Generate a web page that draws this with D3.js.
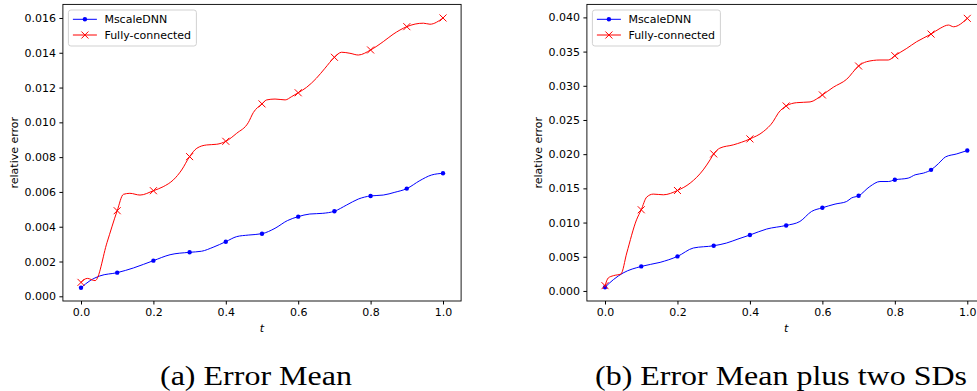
<!DOCTYPE html>
<html lang="en">
  <head>
    <meta charset="UTF-8" />
    <title>Relative error</title>
    <style>
      body { margin: 0; background: #fff; }
      svg text { font-family: "DejaVu Sans", sans-serif; }
    </style>
  </head>
  <body>
    <div id="chart"></div>

    <script src="https://d3js.org/d3.v7.min.js"></script>

    <script>
      // series names
      const seriesNames = ["MscaleDNN", "Fully-connected"];

      // (a) error mean
      const tMeanBlue = [0, 0.025, 0.052, 0.1, 0.145, 0.2, 0.246, 0.3, 0.333, 0.365, 0.4, 0.43, 0.462, 0.5, 0.536, 0.57, 0.6, 0.632, 0.668, 0.7, 0.734, 0.766, 0.8, 0.835, 0.867, 0.9, 0.936, 0.968, 1.0];
      const meanBlue = [0.00049, 0.0009, 0.00117, 0.00136, 0.00163, 0.00205, 0.00239, 0.00253, 0.00259, 0.00282, 0.00314, 0.00343, 0.00352, 0.0036, 0.00391, 0.00435, 0.00458, 0.00473, 0.00477, 0.00489, 0.00525, 0.00559, 0.00577, 0.00582, 0.00598, 0.00619, 0.00665, 0.00697, 0.00707];
      const tMeanRed = [0, 0.0175, 0.039, 0.072, 0.1, 0.117, 0.135, 0.163, 0.2, 0.227, 0.255, 0.278, 0.3, 0.32, 0.347, 0.375, 0.4, 0.43, 0.462, 0.476, 0.5, 0.513, 0.536, 0.564, 0.582, 0.6, 0.623, 0.65, 0.674, 0.7, 0.72, 0.743, 0.766, 0.8, 0.835, 0.862, 0.9, 0.923, 0.946, 0.964, 1.0];
      const meanRed = [0.0008, 0.00103, 0.0009, 0.0031, 0.00492, 0.00586, 0.00592, 0.00582, 0.00607, 0.0063, 0.00669, 0.00726, 0.00803, 0.00851, 0.0087, 0.00874, 0.00891, 0.00937, 0.00998, 0.01056, 0.01106, 0.01129, 0.01134, 0.01129, 0.01148, 0.0117, 0.01201, 0.01253, 0.01311, 0.01374, 0.01403, 0.01397, 0.01387, 0.01416, 0.01464, 0.01506, 0.0155, 0.01565, 0.0157, 0.01564, 0.016];

      // (b) error mean plus two SDs
      const tSdBlue = [0, 0.023, 0.05, 0.1, 0.152, 0.2, 0.244, 0.3, 0.335, 0.367, 0.4, 0.446, 0.5, 0.538, 0.57, 0.6, 0.635, 0.667, 0.68, 0.7, 0.731, 0.759, 0.782, 0.8, 0.837, 0.856, 0.879, 0.9, 0.92, 0.94, 0.971, 1.0];
      const sdBlue = [0.00053, 0.00165, 0.00263, 0.00359, 0.00418, 0.00505, 0.00628, 0.00661, 0.007, 0.00759, 0.00818, 0.00905, 0.00958, 0.01016, 0.01162, 0.01216, 0.0127, 0.01308, 0.01358, 0.01391, 0.01527, 0.016, 0.016, 0.01625, 0.0165, 0.01698, 0.01723, 0.01771, 0.0186, 0.0196, 0.02004, 0.02053];
      const tSdRed = [0, 0.009, 0.023, 0.044, 0.06, 0.087, 0.1, 0.115, 0.133, 0.161, 0.2, 0.235, 0.271, 0.29, 0.3, 0.317, 0.354, 0.4, 0.437, 0.464, 0.478, 0.5, 0.529, 0.566, 0.6, 0.63, 0.667, 0.7, 0.722, 0.759, 0.782, 0.8, 0.833, 0.86, 0.9, 0.925, 0.948, 0.962, 1.0];
      const sdRed = [0.00077, 0.0019, 0.00223, 0.00248, 0.00555, 0.0104, 0.01187, 0.01372, 0.01416, 0.01406, 0.01469, 0.01577, 0.0177, 0.01917, 0.02004, 0.02088, 0.02136, 0.02223, 0.0233, 0.02476, 0.02599, 0.02705, 0.02753, 0.02764, 0.02866, 0.02978, 0.03095, 0.03289, 0.03352, 0.03377, 0.03377, 0.0344, 0.03547, 0.03644, 0.03756, 0.0384, 0.03888, 0.03863, 0.03986];

      // tick labels
      const xTicks = [0, 0.2, 0.4, 0.6, 0.8, 1.0];
      const yTicksMean = [0, 0.002, 0.004, 0.006, 0.008, 0.010, 0.012, 0.014, 0.016];
      const yTicksSd = [0, 0.005, 0.010, 0.015, 0.020, 0.025, 0.030, 0.035, 0.040];
      const captions = ["(a) Error Mean", "(b) Error Mean plus two SDs"];

      const width = 977;
      const height = 391;

      const svg = d3.select("#chart").append("svg")
          .attr("width", width)
          .attr("height", height)
          .attr("viewBox", [0, 0, width, height]);

      function Panel({
        left, right, top = 4.4, bottom = 301,
        yDomain, yTicks, blueT, blueY, redT, redY,
        caption, captionX, captionLen
      }) {
        const x = d3.scaleLinear([-0.05, 1.05], [left, right]);
        const y = d3.scaleLinear(yDomain, [bottom, top]);
        const g = svg.append("g");

        const line = (T, Y) => d3.line()
            .x(i => x(T[i]))
            .y(i => y(Y[i]))
            .curve(d3.curveMonotoneX)(d3.range(T.length));

        const isMark = t => Math.abs(t * 10 - Math.round(t * 10)) < 1e-6;

        // blue line + dots
        g.append("path")
            .attr("d", line(blueT, blueY))
            .attr("fill", "none")
            .attr("stroke", "#0000ff")
            .attr("stroke-width", 1);
        g.append("g")
          .selectAll("circle")
          .data(d3.range(blueT.length).filter(i => isMark(blueT[i])))
          .join("circle")
            .attr("cx", i => x(blueT[i]))
            .attr("cy", i => y(blueY[i]))
            .attr("r", 2.2)
            .attr("fill", "#0000ff");

        // red line + crosses
        g.append("path")
            .attr("d", line(redT, redY))
            .attr("fill", "none")
            .attr("stroke", "#ff0000")
            .attr("stroke-width", 1);
        g.append("g")
          .selectAll("path")
          .data(d3.range(redT.length).filter(i => isMark(redT[i])))
          .join("path")
            .attr("transform", i => `translate(${x(redT[i])},${y(redY[i])})`)
            .attr("d", "M-3.5,-3.5L3.5,3.5M-3.5,3.5L3.5,-3.5")
            .attr("stroke", "#ff0000")
            .attr("stroke-width", 1);

        // frame
        g.append("rect")
            .attr("x", left)
            .attr("y", top)
            .attr("width", right - left)
            .attr("height", bottom - top)
            .attr("fill", "none")
            .attr("stroke", "#000")
            .attr("stroke-width", 0.9);

        // axes
        g.append("g")
            .attr("transform", `translate(0,${bottom})`)
            .call(d3.axisBottom(x).tickValues(xTicks).tickFormat(d3.format(".1f"))
              .tickSize(3.5).tickPadding(3.5))
            .call(a => a.select(".domain").remove())
            .call(a => a.selectAll("text").attr("font-size", 11).attr("fill", "#000")
              .attr("font-family", "DejaVu Sans"));

        g.append("g")
            .attr("transform", `translate(${left},0)`)
            .call(d3.axisLeft(y).tickValues(yTicks).tickFormat(d3.format(".3f"))
              .tickSize(3.5).tickPadding(3.5))
            .call(a => a.select(".domain").remove())
            .call(a => a.selectAll("text").attr("font-size", 11).attr("fill", "#000")
              .attr("font-family", "DejaVu Sans"));

        // labels
        g.append("text")
            .attr("x", (left + right) / 2)
            .attr("y", 332)
            .attr("text-anchor", "middle")
            .attr("font-size", 11)
            .attr("font-style", "italic")
            .text("t");

        g.append("text")
            .attr("transform", `translate(${left - 45},${(top + bottom) / 2}) rotate(-90)`)
            .attr("text-anchor", "middle")
            .attr("font-size", 11)
            .text("relative error");

        // legend
        const lg = g.append("g").attr("transform", `translate(${left + 5.5},10)`);
        lg.append("rect")
            .attr("width", 128)
            .attr("height", 36)
            .attr("rx", 2.5)
            .attr("fill", "#fff")
            .attr("fill-opacity", 0.8)
            .attr("stroke", "#cccccc")
            .attr("stroke-width", 0.9);
        [0, 1].forEach(k => {
          const ry = k === 0 ? 9.3 : 25;
          lg.append("line")
              .attr("x1", 4.5).attr("x2", 28.5)
              .attr("y1", ry).attr("y2", ry)
              .attr("stroke", k === 0 ? "#0000ff" : "#ff0000")
              .attr("stroke-width", 1);
          if (k === 0) {
            lg.append("circle").attr("cx", 16.5).attr("cy", ry).attr("r", 2.2).attr("fill", "#0000ff");
          } else {
            lg.append("path")
                .attr("transform", `translate(16.5,${ry})`)
                .attr("d", "M-3.5,-3.5L3.5,3.5M-3.5,3.5L3.5,-3.5")
                .attr("stroke", "#ff0000");
          }
          lg.append("text")
              .attr("x", 36)
              .attr("y", ry)
              .attr("dy", "0.35em")
              .attr("font-size", 11)
              .attr("fill", "#000")
              .text(seriesNames[k]);
        });

        // caption
        svg.append("text")
            .attr("x", captionX)
            .attr("y", 385)
            .attr("font-family", "Liberation Serif, serif")
            .attr("font-size", 27)
            .attr("textLength", captionLen)
            .attr("lengthAdjust", "spacingAndGlyphs")
            .style("font-family", "'Liberation Serif', serif")
            .text(caption);
      }

      Panel({
        left: 62.9, right: 461.1,
        yDomain: [-0.00027, 0.01678], yTicks: yTicksMean,
        blueT: tMeanBlue, blueY: meanBlue, redT: tMeanRed, redY: meanRed,
        caption: captions[0], captionX: 160, captionLen: 192
      });

      Panel({
        left: 586.9, right: 985.4,
        yDomain: [-0.00147, 0.0419], yTicks: yTicksSd,
        blueT: tSdBlue, blueY: sdBlue, redT: tSdRed, redY: sdRed,
        caption: captions[1], captionX: 595, captionLen: 372
      });
    </script>
  </body>
</html>
